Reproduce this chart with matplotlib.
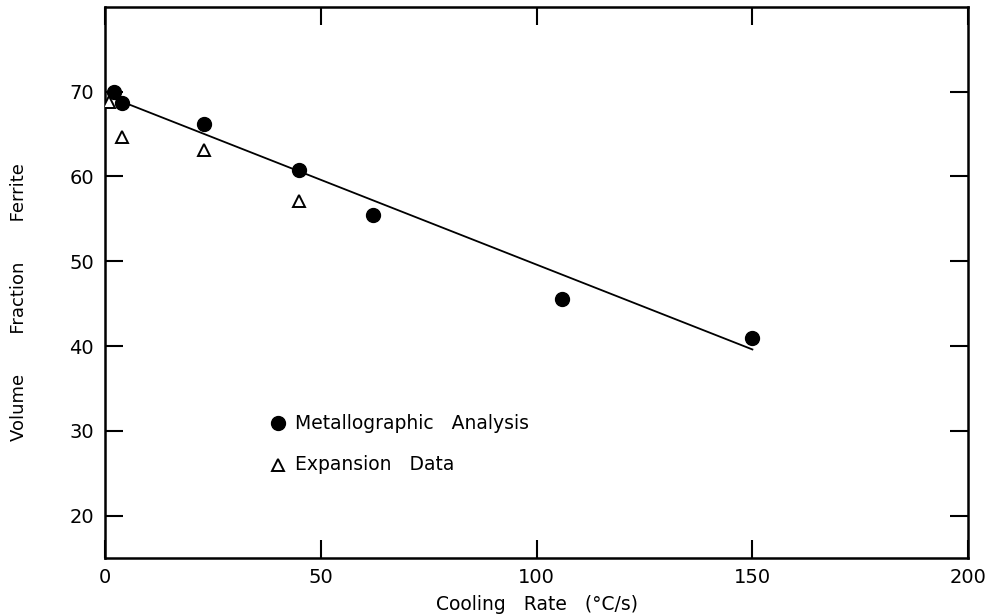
import matplotlib
matplotlib.use("Agg")
import matplotlib.pyplot as plt
import numpy as np

plt.rcParams['font.family'] = ['DejaVu Sans']

# metallographic analysis (filled circles)
metal_rate = [2, 4, 23, 45, 62, 106, 150]
metal_frac = [70.0, 68.6, 66.2, 60.7, 55.4, 45.6, 41.0]

# expansion data (open triangles)
exp_rate = [1, 4, 23, 45]
exp_frac = [68.8, 64.6, 63.1, 57.1]

# fitted line end points
fit_rate = [2, 150]
fit_frac = [69.2, 39.6]

xticks = [0, 50, 100, 150, 200]
yticks = [20, 30, 40, 50, 60, 70]

fig = plt.figure(figsize=(9.9, 6.16), dpi=100)
ax = fig.add_axes([0.106, 0.094, 0.872, 0.895])

ax.plot(fit_rate, fit_frac, color='black', lw=1.3)
ax.plot(metal_rate, metal_frac, 'o', color='black', ms=10, zorder=3)
ax.plot(exp_rate, exp_frac, '^', mfc='white', mec='black', mew=1.4, ms=8.5, zorder=3)

# hand-placed key inside the plot
ax.plot([40], [30.9], 'o', color='black', ms=10)
ax.text(44, 30.9, 'Metallographic   Analysis', fontsize=13.5, va='center')
ax.plot([40], [26.0], '^', mfc='white', mec='black', mew=1.4, ms=8)
ax.text(44, 26.0, 'Expansion   Data', fontsize=13.5, va='center')

ax.set_xlim(0, 200)
ax.set_ylim(15, 80)
ax.set_xticks(xticks)
ax.set_yticks(yticks)
ax.tick_params(direction='in', length=13, width=1.5, top=True, right=True,
               labelsize=14)
ax.tick_params(axis='x', pad=7)
ax.tick_params(axis='y', pad=8)
for s in ax.spines.values():
    s.set_linewidth(1.8)

fig.text(0.542, 0.018, 'Cooling   Rate   (°C/s)', fontsize=13.5,
         ha='center', va='center')
fig.text(0.019, 0.51, 'Volume       Fraction       Ferrite', fontsize=13,
         rotation=90, ha='center', va='center')

fig.savefig('out.png', dpi=100)
